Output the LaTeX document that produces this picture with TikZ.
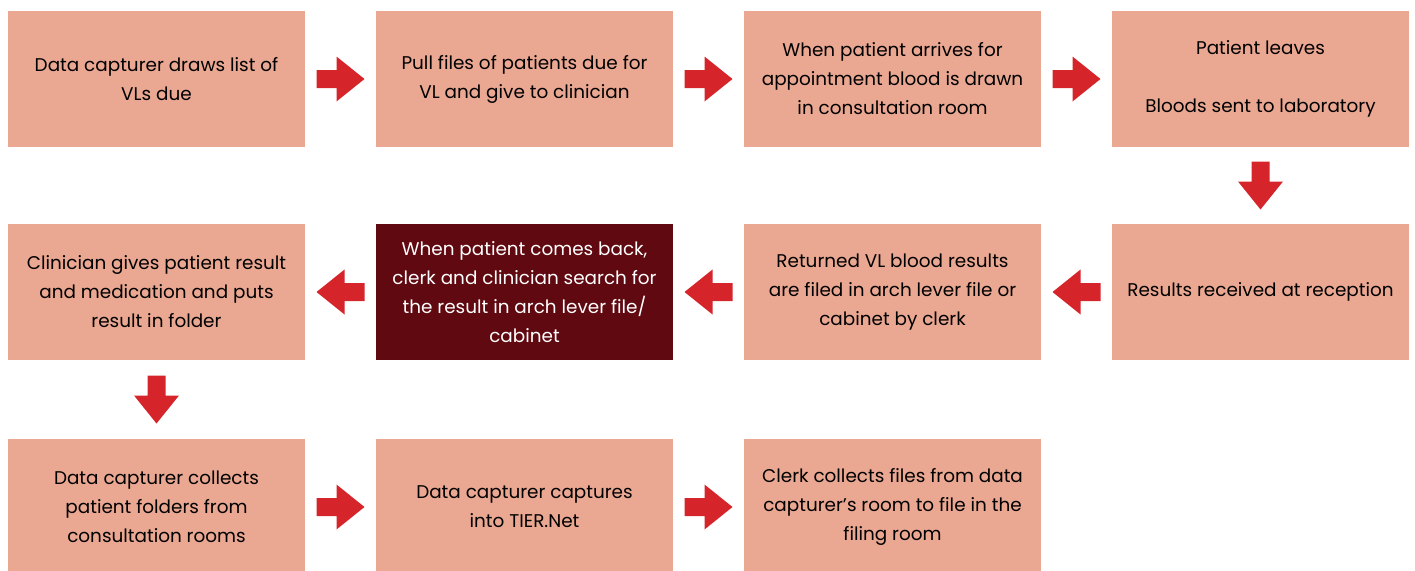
\documentclass[tikz,border=0pt]{standalone}
\usepackage{fontspec}
\setmainfont{Poppins}
\usetikzlibrary{calc}
\definecolor{boxfill}{HTML}{EAA791}
\definecolor{darkbox}{HTML}{600910}
\definecolor{arrowred}{HTML}{D6242B}
\tikzset{
  x=1pt, y=-1pt,
  stepbox/.style={fill=boxfill, minimum width=297pt, minimum height=136pt, inner sep=0pt,
    align=center, font=\fontsize{18.4}{29}\selectfont, text=black},
  darkstep/.style={stepbox, fill=darkbox, text=white},
  fat arrow/.pic={\fill[arrowred] (-24,-9) -- (-4,-9) -- (-4,-22.5) -- (24,0) -- (-4,22.5) -- (-4,9) -- (-24,9) -- cycle;}
}
\begin{document}
\begin{tikzpicture}
\useasboundingbox (0,0) rectangle (1415,570);
% row 1
\node[stepbox] (a1) at (156.5,79) {Data capturer draws list of\\VLs due};
\node[stepbox] (a2) at (524.5,79) {Pull files of patients due for\\VL and give to clinician};
\node[stepbox] (a3) at (892.5,79) {When patient arrives for\\appointment blood is drawn\\in consultation room};
\node[stepbox] (a4) at (1260.5,79) {Patient leaves\\[29pt]Bloods sent to laboratory};
% row 2
\node[stepbox] (b4) at (1260.5,292) {Results received at reception};
\node[stepbox] (b3) at (892.5,292) {Returned VL blood results\\are filed in arch lever file or\\cabinet by clerk};
\node[darkstep] (b2) at (524.5,292) {When patient comes back,\\clerk and clinician search for\\the result in arch lever file/\\cabinet};
\node[stepbox] (b1) at (156.5,292) {Clinician gives patient result\\and medication and puts\\result in folder};
% row 3
\node[stepbox] (c1) at (156.5,507) {Data capturer collects\\patient folders from\\consultation rooms};
\node[stepbox] (c2) at (524.5,507) {Data capturer captures\\into TIER.Net};
\node[stepbox] (c3) at (892.5,507) {Clerk collects files from data\\capturer’s room to file in the\\filing room};
% arrows
\path ($(a1.east)!0.5!(a2.west)$) pic {fat arrow};
\path ($(a2.east)!0.5!(a3.west)$) pic {fat arrow};
\path ($(a3.east)!0.5!(a4.west)$) pic {fat arrow};
\path ($(a4.south)!0.5!(b4.north)$) pic[rotate=-90] {fat arrow};
\path ($(b4.west)!0.5!(b3.east)$) pic[rotate=180] {fat arrow};
\path ($(b3.west)!0.5!(b2.east)$) pic[rotate=180] {fat arrow};
\path ($(b2.west)!0.5!(b1.east)$) pic[rotate=180] {fat arrow};
\path ($(b1.south)!0.5!(c1.north)$) pic[rotate=-90] {fat arrow};
\path ($(c1.east)!0.5!(c2.west)$) pic {fat arrow};
\path ($(c2.east)!0.5!(c3.west)$) pic {fat arrow};
\end{tikzpicture}
\end{document}
